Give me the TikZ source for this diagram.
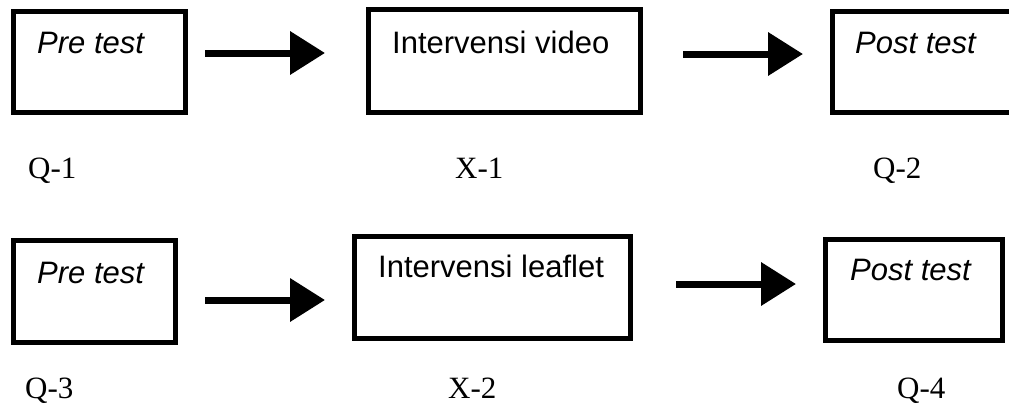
\documentclass[tikz,border=0pt]{standalone}
\usepackage{fontspec}
\setmainfont{Liberation Serif}
\newfontfamily\boxfont{Liberation Sans}
\usetikzlibrary{arrows.meta}
\tikzset{
  stagebox/.style={draw=black, line width=5pt, inner sep=0pt, outer sep=0pt, fill=none},
  boxtext/.style={anchor=base west, inner sep=0pt, font=\boxfont\fontsize{31}{36}\selectfont},
  codelabel/.style={anchor=base west, inner sep=0pt, font=\fontsize{31}{36}\selectfont},
  flowarrow/.style={line width=7pt, -{Triangle[length=35pt,width=42pt]}}
}
\begin{document}
\begin{tikzpicture}[x=1pt,y=-1pt]
\clip (0,0) rectangle (1009,405);
\fill[white] (0,0) rectangle (1009,405);
% row 1 boxes
\node[stagebox, minimum width=172pt, minimum height=101pt] (b1) at (99.5,62) {};
\node[stagebox, minimum width=272pt, minimum height=103pt] (b2) at (504.5,61) {};
\node[stagebox, minimum width=200pt, minimum height=101pt] (b3) at (932.5,62) {};
% row 2 boxes
\node[stagebox, minimum width=162pt, minimum height=102pt] (b4) at (94.5,291.5) {};
\node[stagebox, minimum width=276pt, minimum height=102pt] (b5) at (492.5,287.5) {};
\node[stagebox, minimum width=177pt, minimum height=101pt] (b6) at (914,290) {};
% box texts
\node[boxtext] (t1) at (37,53) {\itshape Pre test};
\node[boxtext] (t2) at (392,53) {Intervensi video};
\node[boxtext] (t3) at (855,53) {\itshape Post test};
\node[boxtext] (t4) at (37,283) {\itshape Pre test};
\node[boxtext] (t5) at (378,277) {Intervensi leaflet};
\node[boxtext] (t6) at (850,280) {\itshape Post test};
% labels
\node[codelabel] (q1) at (28,178) {Q-1};
\node[codelabel] (x1) at (455,178) {X-1};
\node[codelabel] (q2) at (873,178) {Q-2};
\node[codelabel] (q3) at (25,398) {Q-3};
\node[codelabel] (x2) at (448,398) {X-2};
\node[codelabel] (q4) at (897,398) {Q-4};
% arrows
\coordinate (a1s) at (205,53);  \coordinate (a1e) at (325,53);
\coordinate (a2s) at (683,54);  \coordinate (a2e) at (803,54);
\coordinate (a3s) at (205,300); \coordinate (a3e) at (325,300);
\coordinate (a4s) at (676,284); \coordinate (a4e) at (796,284);
\draw[flowarrow] (a1s) -- (a1e);
\draw[flowarrow] (a2s) -- (a2e);
\draw[flowarrow] (a3s) -- (a3e);
\draw[flowarrow] (a4s) -- (a4e);
\end{tikzpicture}
\end{document}
